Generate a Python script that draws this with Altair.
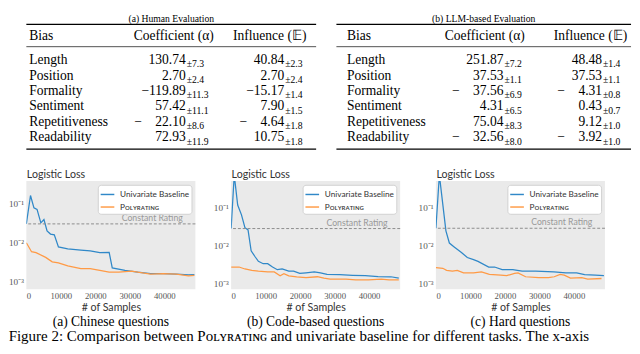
import altair as alt
import pandas as pd

SERIF = "Liberation Serif"
SANS = "Lato"

# ---------------- table data ----------------
bias = ["Length", "Position", "Formality", "Sentiment", "Repetitiveness", "Readability"]
human_coef = ["130.74", "2.70", "\u2212119.89", "57.42", "\u2212\u200322.10", "72.93"]
human_coef_err = ["\u00b17.3", "\u00b12.4", "\u00b111.3", "\u00b111.1", "\u00b18.6", "\u00b111.9"]
human_infl = ["40.84", "2.70", "\u221215.17", "7.90", "\u2212\u20034.64", "10.75"]
human_infl_err = ["\u00b12.3", "\u00b12.4", "\u00b11.4", "\u00b11.5", "\u00b11.8", "\u00b11.8"]
llm_coef = ["251.87", "37.53", "\u2212\u200337.56", "4.31", "75.04", "\u2212\u200332.56"]
llm_coef_err = ["\u00b17.2", "\u00b11.1", "\u00b16.9", "\u00b16.5", "\u00b18.3", "\u00b18.0"]
llm_infl = ["48.48", "37.53", "\u2212\u20034.31", "0.43", "9.12", "\u2212\u20033.92"]
llm_infl_err = ["\u00b11.4", "\u00b11.1", "\u00b10.8", "\u00b10.7", "\u00b11.0", "\u00b11.0"]

# ---------------- line data ----------------
UNI = "Univariate Baseline"
POLY = "P\u1d0f\u029f\u028f\u0280\u1d00\u1d1b\u026a\u0274\u0262"

a_uni_x = [0, 1200, 2200, 3100, 4200, 5100, 6000, 7000, 8100, 9300, 12000, 15800, 18500,
           21300, 24000, 24900, 28600, 32300, 36000, 39700, 43500, 47000, 48700]
a_uni_y = [0.031, 0.165, 0.080, 0.073, 0.033, 0.040, 0.0205, 0.017, 0.0163, 0.0080, 0.0071,
           0.0066, 0.0063, 0.0057, 0.0058, 0.0023, 0.0020, 0.0018, 0.00165, 0.00165, 0.0016,
           0.00154, 0.00156]
a_pol_x = [0, 1500, 2800, 5600, 7500, 9300, 12000, 15800, 18500, 21300, 24000, 26800, 30500,
           33200, 36000, 39700, 43500, 47000, 48700]
a_pol_y = [0.0102, 0.0060, 0.0057, 0.0043, 0.0033, 0.0031, 0.0026, 0.0022, 0.0022, 0.0020,
           0.0018, 0.0018, 0.0019, 0.00175, 0.0016, 0.00165, 0.0016, 0.00145, 0.00148]
a_const = 0.031

b_uni_x = [0, 900, 1900, 3000, 4000, 4900, 5800, 6900, 7900, 9300, 10600, 12000, 13400, 14800,
           16700, 18100, 19900, 21700, 24100, 25900, 27800, 31500, 35200, 38900, 42600, 46300, 48600]
b_uni_y = [0.0276, 0.7, 0.114, 0.063, 0.029, 0.0254, 0.0072, 0.0051, 0.0038, 0.0033, 0.0033,
           0.0027, 0.0023, 0.0024, 0.0021, 0.0021, 0.00184, 0.0019, 0.0020, 0.0019, 0.00174,
           0.0017, 0.00164, 0.0016, 0.00152, 0.0015, 0.00138]
b_pol_x = [0, 2300, 4000, 6000, 7900, 10600, 12500, 14200, 15300, 16700, 19000, 21700, 25000,
           26900, 28700, 33300, 36100, 39800, 43500, 45800, 48600]
b_pol_y = [0.0027, 0.0027, 0.0024, 0.0022, 0.0021, 0.0020, 0.0020, 0.0016, 0.0018, 0.00158,
           0.0015, 0.00143, 0.0015, 0.00138, 0.0013, 0.0013, 0.00125, 0.00125, 0.0013, 0.00125,
           0.00125]
b_const = 0.0276

c_uni_x = [0, 1000, 2900, 3900, 5300, 7400, 9100, 10900, 12200, 15300, 17000, 19200, 22300,
           23600, 25000, 28900, 34200, 37700, 40800, 43100, 46200, 48700]
c_uni_y = [0.0281, 0.7, 0.024, 0.0115, 0.0091, 0.0065, 0.0048, 0.0042, 0.0038, 0.0027, 0.0027,
           0.0023, 0.0023, 0.0022, 0.0021, 0.0021, 0.0020, 0.0019, 0.0019, 0.0017, 0.00165, 0.0016]
c_pol_x = [0, 2000, 3100, 4800, 6200, 8000, 10900, 13200, 15500, 18800, 20500, 22800, 23800,
           26000, 29800, 32600, 34300, 36000, 37200, 39000, 42300, 44000, 48000]
c_pol_y = [0.0026, 0.0025, 0.0022, 0.0021, 0.0022, 0.0019, 0.0019, 0.0020, 0.00174, 0.00165,
           0.0016, 0.00184, 0.0019, 0.0015, 0.00143, 0.00143, 0.0015, 0.00174, 0.00165, 0.00138,
           0.00143, 0.0013, 0.00135]
c_const = 0.0281

captions = ["(a) Chinese questions", "(b) Code-based questions", "(c) Hard questions"]
table_titles = ["(a) Human Evaluation", "(b) LLM-based Evaluation"]
fig_caption = ("Figure 2: Comparison between P\u1d0f\u029f\u028f\u0280\u1d00\u1d1b\u026a\u0274\u0262 "
               "and univariate baseline for different tasks. The x-axis")

BLUE = "#3088c8"
ORANGE = "#ff9a45"

one = pd.DataFrame({"k": [0]})


def table(title, coef, coef_err, infl, infl_err, width, label_x, col1_r, col2_r, hdr1_r, hdr2_r):
    df = pd.DataFrame({"Bias": bias, "coef": coef, "coef_err": coef_err,
                       "infl": infl, "infl_err": infl_err})
    yenc = alt.Y("Bias:N", sort=bias, axis=None,
                 scale=alt.Scale(type="point", range=[37, 117], padding=0))
    base = alt.Chart(df).encode(y=yenc)
    layers = [
        base.mark_text(align="left", baseline="middle", font=SERIF, fontSize=14,
                       color="black").encode(x=alt.value(label_x), text="Bias:N")
    ]
    for col, err, right in [("coef", "coef_err", col1_r), ("infl", "infl_err", col2_r)]:
        layers.append(base.mark_text(align="right", baseline="middle", font=SERIF, fontSize=14,
                                     color="black").encode(x=alt.value(right), text=f"{col}:N"))
        layers.append(base.mark_text(align="left", baseline="middle", font=SERIF, fontSize=10,
                                     dx=1, dy=4.5, color="black").encode(
            x=alt.value(right), text=f"{err}:N"))
    hdr = alt.Chart(one)
    layers += [
        hdr.mark_text(align="left", baseline="middle", font=SERIF, fontSize=14, color="black")
        .encode(x=alt.value(label_x), y=alt.value(12), text=alt.value("Bias")),
        hdr.mark_text(align="right", baseline="middle", font=SERIF, fontSize=14, color="black")
        .encode(x=alt.value(hdr1_r), y=alt.value(12), text=alt.value("Coefficient (\u03b1)")),
        hdr.mark_text(align="right", baseline="middle", font=SERIF, fontSize=14, color="black")
        .encode(x=alt.value(hdr2_r), y=alt.value(12), text=alt.value("Influence (\U0001D53C)")),
        hdr.mark_rule(color="black", strokeWidth=1.3)
        .encode(x=alt.value(0), x2=alt.value(width), y=alt.value(0)),
        hdr.mark_rule(color="black", strokeWidth=0.7)
        .encode(x=alt.value(0), x2=alt.value(width), y=alt.value(23)),
        hdr.mark_rule(color="black", strokeWidth=1.3)
        .encode(x=alt.value(0), x2=alt.value(width), y=alt.value(129)),
    ]
    return alt.layer(*layers).properties(
        width=width, height=129,
        title=alt.TitleParams(title, font=SERIF, fontSize=10, fontWeight="normal",
                              offset=0, anchor="middle", color="black"))


def loss_chart(ux, uy, px, py, const, ydom, caption, width=175, height=112):
    df = pd.concat([
        pd.DataFrame({"n": ux, "loss": uy, "series": UNI}),
        pd.DataFrame({"n": px, "loss": py, "series": POLY}),
    ])
    x = alt.X("n:Q", scale=alt.Scale(domain=[0, 49000], nice=False, zero=False),
              axis=alt.Axis(values=[0, 10000, 20000, 30000, 40000], format="d",
                            title="# of Samples", labelFont=SERIF, labelFontSize=9,
                            labelColor="#555", titleFont=SANS, titleFontSize=11,
                            titleFontWeight="normal", titleColor="#333", titlePadding=1,
                            labelPadding=3))
    y = alt.Y("loss:Q", scale=alt.Scale(type="log", domain=ydom, nice=False),
              axis=alt.Axis(values=[0.001, 0.01, 0.1],
                            labelExpr="datum.value > 0.05 ? '10\u207b\u00b9' : datum.value > 0.005 ? '10\u207b\u00b2' : '10\u207b\u00b3'",
                            labelFont=SERIF, labelFontSize=9.5, labelColor="#555",
                            labelPadding=3, title="Logistic Loss", titleAngle=0, titleX=0,
                            titleY=-2, titleAlign="left", titleBaseline="bottom",
                            titleFont=SANS, titleFontSize=11, titleFontWeight="normal",
                            titleColor="#333"))
    lines = alt.Chart(df).mark_line(strokeWidth=1.3, clip=True).encode(
        x=x, y=y,
        color=alt.Color("series:N",
                        scale=alt.Scale(domain=[UNI, POLY], range=[BLUE, ORANGE]),
                        legend=alt.Legend(title=None, orient="top-right", offset=4, padding=2,
                                          fillColor="white", strokeColor="#d0d0d0",
                                          cornerRadius=3, symbolType="stroke",
                                          symbolStrokeWidth=1.5, symbolSize=200,
                                          labelFont=SANS, labelFontSize=8.5, labelColor="#333",
                                          rowPadding=0, labelOffset=5)))
    cdf = pd.DataFrame({"loss": [const]})
    rule = alt.Chart(cdf).mark_rule(strokeDash=[3, 2], color="#8a8a8a", strokeWidth=1).encode(y=y)
    txt = alt.Chart(cdf).mark_text(align="right", baseline="bottom", dy=-1, font=SANS,
                                   fontSize=9, color="#999").encode(
        x=alt.value(width - 13), y=y, text=alt.value("Constant Rating"))
    return alt.layer(lines, rule, txt).properties(
        width=width, height=height,
        view=alt.ViewBackground(fill="#eaeaea", stroke=None),
        title=alt.TitleParams(caption, orient="bottom", font=SERIF, fontSize=14,
                              fontWeight="normal", offset=3, anchor="middle", color="black"))


tab_a = table(table_titles[0], human_coef, human_coef_err, human_infl, human_infl_err, 300,
              label_x=3, col1_r=165, col2_r=267, hdr1_r=194, hdr2_r=290)
tab_b = table(table_titles[1], llm_coef, llm_coef_err, llm_infl, llm_infl_err, 305,
              label_x=11, col1_r=173, col2_r=275, hdr1_r=195, hdr2_r=301)

ch_a = loss_chart(a_uni_x, a_uni_y, a_pol_x, a_pol_y, a_const, [6.6e-4, 0.39], captions[0])
ch_b = loss_chart(b_uni_x, b_uni_y, b_pol_x, b_pol_y, b_const, [7.1e-4, 0.49], captions[1])
ch_c = loss_chart(c_uni_x, c_uni_y, c_pol_x, c_pol_y, c_const, [7.1e-4, 0.49], captions[2])

row1 = alt.hconcat(tab_a, tab_b, spacing=19)
row2 = alt.hconcat(ch_a, ch_b, ch_c, spacing=17).resolve_scale(
    color="independent").resolve_legend(color="independent")

chart = alt.vconcat(row1, row2, spacing=19).properties(
    padding=0,
    title=alt.TitleParams(fig_caption, orient="bottom", anchor="start", font=SERIF,
                          fontSize=15.5, fontWeight="normal", offset=1, color="black"),
).configure_view(stroke=None).configure_axis(grid=False, domain=False, ticks=False)

chart.save("out.html", embed_options={"renderer": "svg", "actions": False})
